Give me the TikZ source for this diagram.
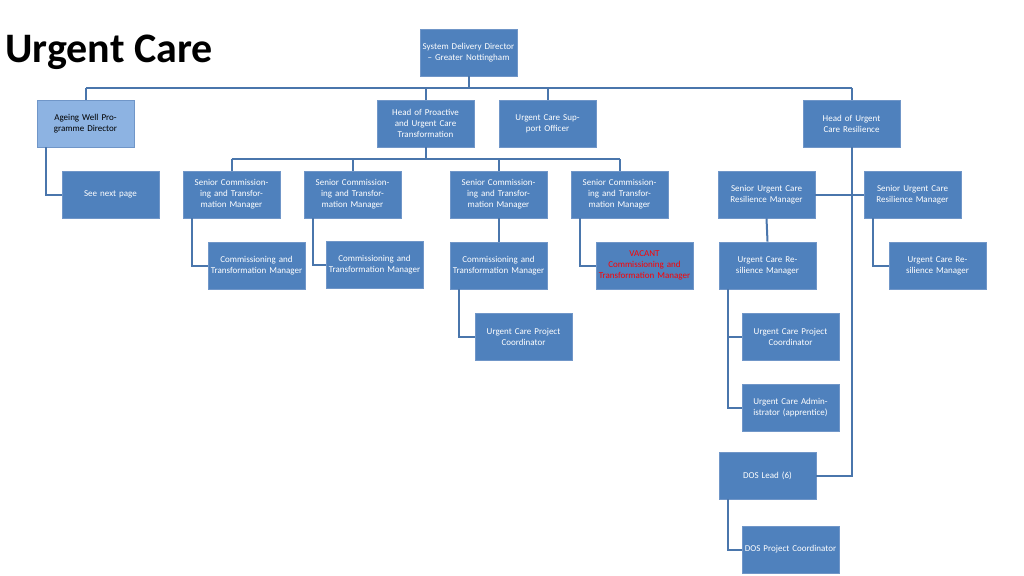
\documentclass[tikz,border=0pt]{standalone}
\usepackage{fontspec}
\setmainfont{Carlito}
\begin{document}
\begin{tikzpicture}[x=1pt,y=-1pt,
  box/.style={draw=boxline,fill=boxfill,line width=0.8pt,minimum width=97pt,minimum height=47pt,text width=95pt,align=center,inner sep=0pt,font=\fontsize{9}{11}\selectfont,text=white},
  ln/.style={draw=linec,line width=2pt}]
\definecolor{boxfill}{HTML}{4F81BD}
\definecolor{boxline}{HTML}{7096C8}
\definecolor{light}{HTML}{8DB3E2}
\definecolor{linec}{HTML}{4A76AC}
\useasboundingbox (0,0) rectangle (1024,575);
\node[anchor=west,font=\fontsize{42}{46}\selectfont\bfseries] (title) at (2,52) {Urgent Care};
\node[box] (sdd) at (468.5,52.5) {System Delivery Director – Greater Nottingham};
\node[box,fill=light,text=black] (aw) at (85.5,123.5) {Ageing Well Programme Director};
\node[box] (hp) at (425.5,123.5) {Head of Proactive and Urgent Care Transformation};
\node[box] (ucs) at (547.5,123.5) {Urgent Care Support Officer};
\node[box] (hr) at (851.5,123.5) {Head of Urgent Care Resilience};
\node[box] (snp) at (110.5,194.5) {See next page};
\node[box] (s1) at (231.5,194.5) {Senior Commissioning and Transformation Manager};
\node[box] (s2) at (352.5,194.5) {Senior Commissioning and Transformation Manager};
\node[box] (s3) at (498.5,194.5) {Senior Commissioning and Transformation Manager};
\node[box] (s4) at (619.5,194.5) {Senior Commissioning and Transformation Manager};
\node[box] (r1) at (766.5,194.5) {Senior Urgent Care Resilience Manager};
\node[box] (r2) at (912.5,194.5) {Senior Urgent Care Resilience Manager};
\node[box] (c1) at (256.5,265.5) {Commissioning and Transformation Manager};
\node[box] (c2) at (374.5,264.5) {Commissioning and Transformation Manager};
\node[box] (c3) at (498.5,265.5) {Commissioning and Transformation Manager};
\node[box,text=red] (c4) at (644.5,265.5) {VACANT\\Commissioning and Transformation Manager};
\node[box] (u1) at (767.5,265.5) {Urgent Care Resilience Manager};
\node[box] (u2) at (937.5,265.5) {Urgent Care Resilience Manager};
\node[box] (p1) at (523.5,336.5) {Urgent Care Project Coordinator};
\node[box] (p2) at (790.5,336.5) {Urgent Care Project Coordinator};
\node[box] (ua) at (790.5,407.5) {Urgent Care Administrator (apprentice)};
\node[box] (dl) at (767.5,475.5) {DOS Lead (6)};
\node[box] (dp) at (790.5,549.5) {DOS Project Coordinator};
% top bus
\draw[ln] (sdd.south) -- (468.5,88);
\draw[ln] (86,88) -- (851.5,88);
\draw[ln] (86,88) -- (aw.north -| 86,0);
\draw[ln] (425.5,88) -- (hp.north);
\draw[ln] (547.5,88) -- (ucs.north);
\draw[ln] (851.5,88) -- (hr.north);
% proactive bus
\draw[ln] (hp.south) -- (425.5,159);
\draw[ln] (231.5,159) -- (619.5,159);
\foreach \n/\x in {s1/231.5,s2/352.5,s3/498.5,s4/619.5} \draw[ln] (\x,159) -- (\n.north);
% resilience spine
\draw[ln] (hr.south) -- (851.5,475.5) -- (dl.east);
\draw[ln] (r1.east) -- (r2.west);
% elbows
\draw[ln] (aw.south -| 46,0) |- (snp.west);
\draw[ln] (s1.south -| 192,0) |- (c1.west);
\draw[ln] (s2.south -| 313,0) |- (c2.west);
\draw[ln] (s3.south) -- (c3.north);
\draw[ln] (c3.south -| 459,0) |- (p1.west);
\draw[ln] (s4.south -| 580,0) |- (c4.west);
\draw[ln] (r1.south) -- (u1.north);
\draw[ln] (u1.south -| 728,0) |- (ua.west);
\draw[ln] (728,336.5) -- (p2.west);
\draw[ln] (dl.south -| 728,0) |- (dp.west);
\draw[ln] (r2.south -| 873,0) |- (u2.west);
\end{tikzpicture}
\end{document}
